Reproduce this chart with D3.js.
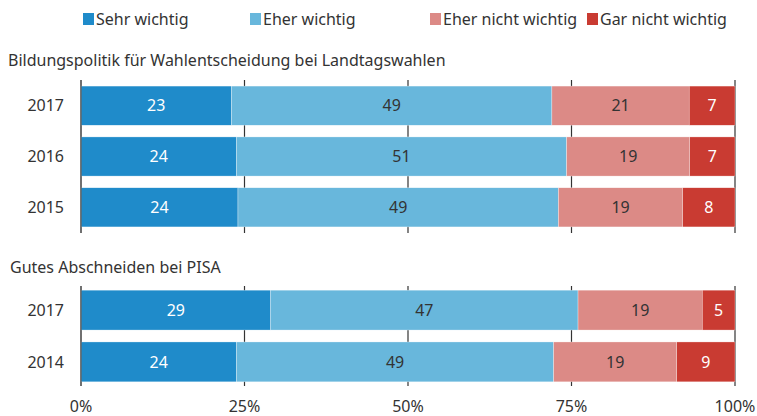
<!DOCTYPE html>
<html><head><meta charset="utf-8">
<script src="https://cdn.jsdelivr.net/npm/d3@7"></script>
<style>body{margin:0;background:#fff}svg{display:block}text{font-family:"Noto Sans",sans-serif}</style>
</head><body><svg id="c" width="757" height="416"></svg>
<script>
const categories = ["Sehr wichtig","Eher wichtig","Eher nicht wichtig","Gar nicht wichtig"];
const colors = ["#1f8bca","#68b7dc","#dc8a86","#c93b32"];
const labelColors = ["#ffffff","#333333","#333333","#ffffff"];
const groupTitles = ["Bildungspolitik für Wahlentscheidung bei Landtagswahlen","Gutes Abschneiden bei PISA"];
const group1Years = ["2017","2016","2015"];
const group1Values = [[23,49,21,7],[24,51,19,7],[24,49,19,8]];
const group2Years = ["2017","2014"];
const group2Values = [[29,47,19,5],[24,49,19,9]];
const tickValues = [0,25,50,75,100];
const tickLabels = ["0%","25%","50%","75%","100%"];

const svg = d3.select("#c");
const x = d3.scaleLinear().domain([0,100]).range([81,735]);
const fs = 16;

// legend
const legX = [83,250,430,587];
const leg = svg.append("g");
categories.forEach((c,i)=>{
  leg.append("rect").attr("x",legX[i]).attr("y",13).attr("width",11).attr("height",12).attr("fill",colors[i]);
  leg.append("text").attr("x",legX[i]+13).attr("y",25).attr("font-size",fs).attr("fill","#333").text(c);
});

function drawGroup(title, titleX, titleY, years, values, yTop, yBottom, bandTop, bandBottom){
  const g = svg.append("g");
  g.append("text").attr("x",titleX).attr("y",titleY).attr("font-size",fs).attr("fill","#333").text(title);
  const y = d3.scaleBand().domain(years).range([bandTop,bandBottom]).paddingInner(0.23).paddingOuter(0.1);
  g.selectAll("line.grid").data(tickValues).join("line")
    .attr("x1",d=>x(d)).attr("x2",d=>x(d)).attr("y1",yTop).attr("y2",yBottom)
    .attr("stroke",d=>d===0?"#555":"#333").attr("stroke-width",1.2);
  years.forEach((yr,j)=>{
    const vals = values[j];
    const tot = d3.sum(vals);
    let cum = 0;
    vals.forEach((v,i)=>{
      const x0 = x(cum/tot*100), x1 = x((cum+v)/tot*100);
      g.append("rect").attr("x",x0).attr("y",y(yr)).attr("width",x1-x0).attr("height",y.bandwidth())
        .attr("fill",colors[i]).attr("stroke","#fff").attr("stroke-width",0.5).attr("stroke-opacity",0.6);
      g.append("text").attr("x",(x0+x1)/2).attr("y",y(yr)+y.bandwidth()/2).attr("dy","0.36em")
        .attr("text-anchor","middle").attr("font-size",fs).attr("fill",labelColors[i]).text(v);
      cum += v;
    });
    g.append("text").attr("x",64).attr("y",y(yr)+y.bandwidth()/2).attr("dy","0.36em")
      .attr("text-anchor","end").attr("font-size",fs).attr("fill","#333").text(yr);
  });
  g.append("line").attr("x1",x(0)).attr("x2",x(0)).attr("y1",yTop).attr("y2",yBottom).attr("stroke","#555").attr("stroke-width",1.2);
}

drawGroup(groupTitles[0],8,66,group1Years,group1Values,80,233,81,232);
drawGroup(groupTitles[1],10,273,group2Years,group2Values,286,386,285,387);

svg.append("g").selectAll("text").data(tickValues).join("text")
  .attr("x",d=>x(d)).attr("y",412).attr("text-anchor","middle").attr("font-size",fs).attr("fill","#333")
  .text((d,i)=>tickLabels[i]);
</script></body></html>
